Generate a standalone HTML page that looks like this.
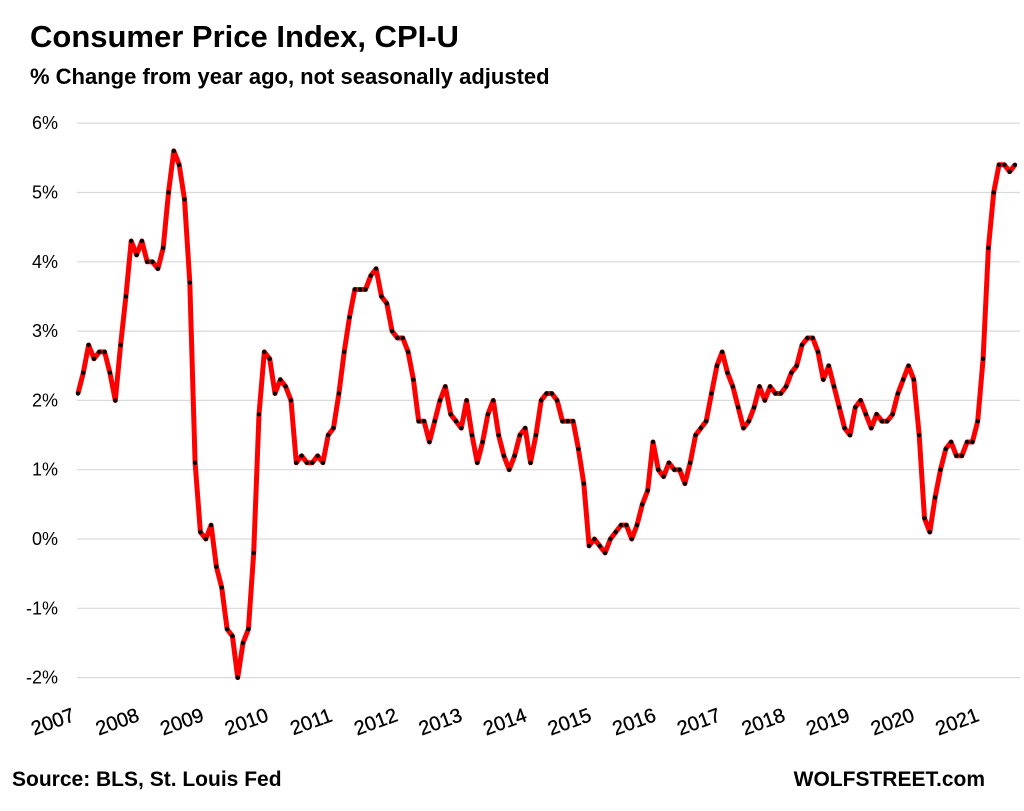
<!DOCTYPE html>
<html><head><meta charset="utf-8"><style>
body{margin:0;background:#fff;width:1024px;height:806px;overflow:hidden;font-family:"Liberation Sans",sans-serif}
</style></head><body>
<svg id="s" width="1024" height="806" xmlns="http://www.w3.org/2000/svg" font-family="Liberation Sans, sans-serif">
<text x="30" y="47" font-size="31" font-weight="bold" fill="#000">Consumer Price Index, CPI-U</text>
<text x="30" y="84" font-size="22" font-weight="bold" fill="#000">% Change from year ago, not seasonally adjusted</text>
<text x="12" y="786" font-size="21" font-weight="bold" fill="#000">Source: BLS, St. Louis Fed</text>
<text x="985" y="786" font-size="21" font-weight="bold" fill="#000" text-anchor="end">WOLFSTREET.com</text>
<g id="g"></g>
</svg>
<script>
var d=[2.1,2.4,2.8,2.6,2.7,2.7,2.4,2.0,2.8,3.5,4.3,4.1,
4.3,4.0,4.0,3.9,4.2,5.0,5.6,5.4,4.9,3.7,1.1,0.1,
0.0,0.2,-0.4,-0.7,-1.3,-1.4,-2.0,-1.5,-1.3,-0.2,1.8,2.7,
2.6,2.1,2.3,2.2,2.0,1.1,1.2,1.1,1.1,1.2,1.1,1.5,
1.6,2.1,2.7,3.2,3.6,3.6,3.6,3.8,3.9,3.5,3.4,3.0,
2.9,2.9,2.7,2.3,1.7,1.7,1.4,1.7,2.0,2.2,1.8,1.7,
1.6,2.0,1.5,1.1,1.4,1.8,2.0,1.5,1.2,1.0,1.2,1.5,
1.6,1.1,1.5,2.0,2.1,2.1,2.0,1.7,1.7,1.7,1.3,0.8,
-0.1,0.0,-0.1,-0.2,0.0,0.1,0.2,0.2,0.0,0.2,0.5,0.7,
1.4,1.0,0.9,1.1,1.0,1.0,0.8,1.1,1.5,1.6,1.7,2.1,
2.5,2.7,2.4,2.2,1.9,1.6,1.7,1.9,2.2,2.0,2.2,2.1,
2.1,2.2,2.4,2.5,2.8,2.9,2.9,2.7,2.3,2.5,2.2,1.9,
1.6,1.5,1.9,2.0,1.8,1.6,1.8,1.7,1.7,1.8,2.1,2.3,
2.5,2.3,1.5,0.3,0.1,0.6,1.0,1.3,1.4,1.2,1.2,1.4,
1.4,1.7,2.6,4.2,5.0,5.4,5.4,5.3,5.4];
var h='';
function Y(v){return 539-v*69.3;}
for(var i=6;i>=-2;i--){var y=Y(i);h+='<line x1="77" x2="1020" y1="'+y+'" y2="'+y+'" stroke="#d9d9d9" stroke-width="1.2"/>';
h+='<text x="58" y="'+(y+6)+'" font-size="18" text-anchor="end" fill="#000">'+i+'%</text>';}
var x0=78,dx=(1015-78)/(d.length-1),p=[],c='';
for(var i=0;i<d.length;i++){var x=x0+i*dx,y=Y(d[i]);p.push(x.toFixed(1)+','+y.toFixed(1));c+='<circle cx="'+x.toFixed(1)+'" cy="'+y.toFixed(1)+'" r="2.2" fill="#000"/>';}
h+='<polyline points="'+p.join(' ')+'" fill="none" stroke="#ff0000" stroke-width="5" stroke-linejoin="round"/>'+c;
for(var k=0;k<15;k++){var x=55+k*64.6;h+='<text transform="translate('+x+',728) rotate(-20)" font-size="20" text-anchor="middle" fill="#000" stroke="#000" stroke-width="0.3">'+(2007+k)+'</text>';}
document.getElementById('g').innerHTML=h;
</script>
</body></html>
